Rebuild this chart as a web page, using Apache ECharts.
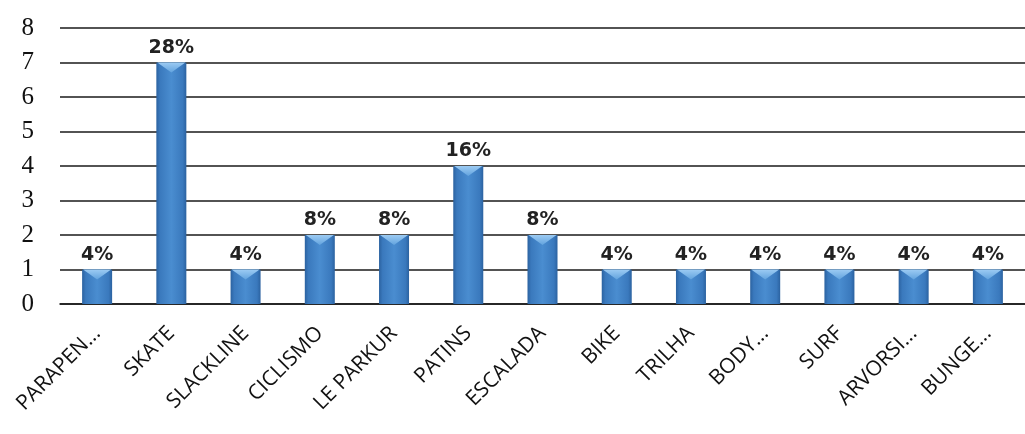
<!DOCTYPE html>
<html>
<head>
<meta charset="utf-8">
<script src="https://cdn.jsdelivr.net/npm/echarts@6/dist/echarts.min.js"></script>
<style>
  html, body { margin: 0; padding: 0; background: #fff; }
  #chart { width: 1025px; height: 434px; }
</style>
</head>
<body>
<div id="chart"></div>
<script>
// Sports practised, count per activity
const categories = ['PARAPEN...', 'SKATE', 'SLACKLINE', 'CICLISMO', 'LE PARKUR', 'PATINS',
  'ESCALADA', 'BIKE', 'TRILHA', 'BODY...', 'SURF', 'ARVORSI...', 'BUNGE...'];
const counts = [1, 7, 1, 2, 2, 4, 2, 1, 1, 1, 1, 1, 1];
const yTicks = [0, 1, 2, 3, 4, 5, 6, 7, 8];

const total = counts.reduce((a, b) => a + b, 0);
const BAR_W = 30;

const barFill = new echarts.graphic.LinearGradient(0, 0, 1, 0, [
  { offset: 0, color: '#2b62a0' },
  { offset: 0.12, color: '#3a79bd' },
  { offset: 0.5, color: '#4a8dd0' },
  { offset: 0.88, color: '#3a79bd' },
  { offset: 1, color: '#2b62a0' }
]);

// bevelled cap: light downward-pointing wedge at the top of each bar
function renderCap(params, api) {
  const top = api.coord([api.value(0), api.value(1)]);
  const half = BAR_W / 2;
  const depth = 10;
  return {
    type: 'polygon',
    shape: { points: [[top[0] - half + 1, top[1]], [top[0] + half - 1, top[1]], [top[0], top[1] + depth]] },
    style: {
      fill: new echarts.graphic.LinearGradient(0, 0, 0, 1, [
        { offset: 0, color: '#9ccbf3' },
        { offset: 1, color: '#62a3de' }
      ])
    },
    silent: true
  };
}

const chart = echarts.init(document.getElementById('chart'));
chart.setOption({
  animation: false,
  grid: { left: 60, top: 28, width: 978, height: 276, containLabel: false },
  xAxis: {
    type: 'category',
    data: categories,
    axisLine: { show: true, lineStyle: { color: '#1a1a1a', width: 1.6 } },
    axisTick: { show: false },
    axisLabel: {
      interval: 0,
      rotate: 45,
      margin: 26,
      color: '#111',
      fontFamily: '"Open Sans", "Liberation Sans", sans-serif',
      fontSize: 21
    }
  },
  yAxis: {
    type: 'value',
    min: yTicks[0],
    max: yTicks[yTicks.length - 1],
    interval: 1,
    axisLine: { show: false },
    axisTick: { show: false },
    splitLine: { lineStyle: { color: '#1a1a1a', width: 1.6 } },
    axisLabel: {
      margin: 26,
      color: '#111',
      fontFamily: '"Liberation Serif", "DejaVu Serif", serif',
      fontSize: 25
    }
  },
  series: [{
    type: 'bar',
    data: counts,
    barWidth: BAR_W,
    itemStyle: { color: barFill },
    label: {
      show: true,
      position: 'top',
      distance: 5,
      color: '#222',
      fontFamily: '"DejaVu Sans", sans-serif',
      fontWeight: 'bold',
      fontSize: 19,
      formatter: p => Math.round(p.value / total * 100) + '%'
    }
  }, {
    type: 'custom',
    renderItem: renderCap,
    data: counts.map((v, i) => [i, v]),
    encode: { x: 0, y: 1 },
    z: 3
  }]
});
</script>
</body>
</html>
